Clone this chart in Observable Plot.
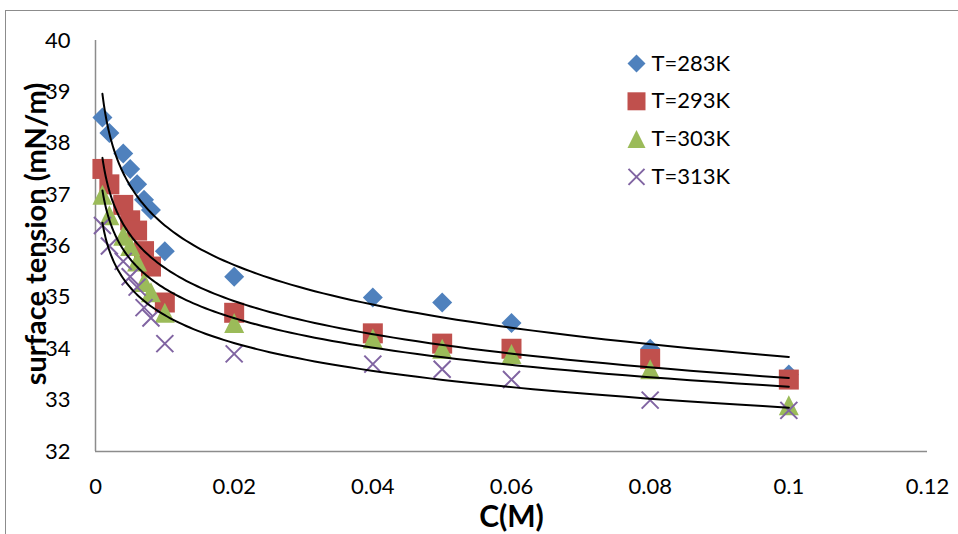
<!DOCTYPE html>
<html>
<head>
<meta charset="utf-8">
<script src="https://cdn.jsdelivr.net/npm/d3@7"></script>
<script src="https://cdn.jsdelivr.net/npm/@observablehq/plot@0.6"></script>
<style>
  html, body { margin: 0; padding: 0; background: #fff; }
  #wrap { position: relative; width: 958px; height: 534px; overflow: hidden; }
  #border { position: absolute; left: 5px; top: 10px; right: -10px; bottom: -10px;
            border-left: 1.5px solid #8c8c8c; border-top: 1.5px solid #8c8c8c; pointer-events: none; }
  #chart { position: absolute; left: 0; top: 0; }
</style>
</head>
<body>
<div id="wrap"><div id="chart"></div><div id="border"></div></div>
<script>
// ---- data ----
const conc = [0.001, 0.002, 0.004, 0.005, 0.006, 0.007, 0.008, 0.01, 0.02, 0.04, 0.05, 0.06, 0.08, 0.1];
const t283 = [38.5, 38.2, 37.8, 37.5, 37.2, 36.9, 36.7, 35.9, 35.4, 35.0, 34.9, 34.5, 34.0, 33.5];
const t293 = [37.5, 37.2, 36.8, 36.5, 36.3, 35.9, 35.6, 34.9, 34.7, 34.3, 34.1, 34.0, 33.8, 33.4];
const t303 = [37.0, 36.6, 36.2, 36.0, 35.7, 35.3, 35.1, 34.7, 34.5, 34.2, 34.0, 33.9, 33.6, 32.9];
const t313 = [36.4, 36.0, 35.7, 35.4, 35.2, 34.8, 34.6, 34.1, 33.9, 33.7, 33.6, 33.4, 33.0, 32.8];
const seriesNames = ["T=283K", "T=293K", "T=303K", "T=313K"];
const seriesValues = [t283, t293, t303, t313];
const xTicks = [0, 0.02, 0.04, 0.06, 0.08, 0.1, 0.12];
const yTicks = [32, 33, 34, 35, 36, 37, 38, 39, 40];
const xLabel = "C(M)";
const yLabel = "surface tension (mN/m)";

// ---- styles ----
const colors = ["#4F81BD", "#C0504D", "#9BBB59", "#8064A2"];
const hx = s => Math.sqrt(s / Math.PI);
const symDiamond = { draw(c, s) { const h = hx(s); c.moveTo(0, -h); c.lineTo(h, 0); c.lineTo(0, h); c.lineTo(-h, 0); c.closePath(); } };
const symSquare = { draw(c, s) { const h = hx(s); c.moveTo(-h, -h); c.lineTo(h, -h); c.lineTo(h, h); c.lineTo(-h, h); c.closePath(); } };
const symTriangle = { draw(c, s) { const h = hx(s); c.moveTo(0, -h); c.lineTo(h, h); c.lineTo(-h, h); c.closePath(); } };
const symTimes = { draw(c, s) { const h = hx(s); c.moveTo(-h, -h); c.lineTo(h, h); c.moveTo(h, -h); c.lineTo(-h, h); } };
const symbols = [symDiamond, symSquare, symTriangle, symTimes];
const radii = [10, 10, 10, 8.5];
const legendRadii = [9, 9, 9, 8];

// ---- build rows ----
const series = seriesNames.map((name, i) => ({
  name, i,
  rows: conc.map((c, j) => ({ c, v: seriesValues[i][j] }))
}));

// logarithmic trend (least squares on ln C), as in the spreadsheet trendline
function logFit(rows) {
  const lx = rows.map(r => Math.log(r.c)), ys = rows.map(r => r.v);
  const mx = d3.mean(lx), my = d3.mean(ys);
  const a = d3.sum(lx, (x, k) => (x - mx) * (ys[k] - my)) / d3.sum(lx, x => (x - mx) ** 2);
  return { a, b: my - a * mx };
}
const cMin = d3.min(conc), cMax = d3.max(conc);
const sampleC = d3.range(0, 121).map(k => cMin * Math.pow(cMax / cMin, k / 120));

const marks = [];
// axis lines
marks.push(Plot.ruleX([0], { stroke: "#8c8c8c", strokeWidth: 1.5 }));
marks.push(Plot.ruleY([32], { stroke: "#8c8c8c", strokeWidth: 1.5 }));

// points
series.forEach(s => {
  const isX = s.i === 3;
  marks.push(Plot.dot(s.rows, {
    x: "c", y: "v", symbol: () => symbols[s.i], r: radii[s.i],
    fill: isX ? "none" : colors[s.i],
    stroke: isX ? colors[s.i] : "none",
    strokeWidth: isX ? 2 : 0
  }));
});

// trendlines
series.forEach(s => {
  const { a, b } = logFit(s.rows);
  marks.push(Plot.line(sampleC.map(c => ({ c, v: a * Math.log(c) + b })), {
    x: "c", y: "v", stroke: "#000", strokeWidth: 2
  }));
});

// legend
series.forEach(s => {
  const isX = s.i === 3;
  const dy = 23 + 37.8 * s.i;
  marks.push(Plot.dot([s.name], {
    frameAnchor: "top-left", dx: 541, dy,
    symbol: () => symbols[s.i], r: legendRadii[s.i],
    fill: isX ? "none" : colors[s.i],
    stroke: isX ? colors[s.i] : "none",
    strokeWidth: isX ? 2 : 0
  }));
  marks.push(Plot.text([s.name], {
    frameAnchor: "top-left", dx: 556, dy, text: d => d,
    textAnchor: "start", lineAnchor: "middle", fontSize: 22, fill: "#000"
  }));
});

// axis titles
marks.push(Plot.text([yLabel], {
  frameAnchor: "left", dx: -59, dy: -12, rotate: -90, text: d => d,
  fontSize: 29, fontWeight: "bold", fill: "#000", lineAnchor: "middle", textAnchor: "middle"
}));
marks.push(Plot.text([xLabel], {
  frameAnchor: "bottom", dy: 66, text: d => d,
  fontSize: 30, fontWeight: "bold", fill: "#000", lineAnchor: "middle", textAnchor: "middle"
}));

// axes
marks.push(Plot.axisX({ ticks: xTicks, tickSize: 0, tickPadding: 27, tickFormat: d => String(d), fontSize: 22 }));
marks.push(Plot.axisY({ ticks: yTicks, tickSize: 0, tickPadding: 25, tickFormat: d => String(d), fontSize: 22 }));

const chart = Plot.plot({
  width: 958,
  height: 534,
  marginLeft: 95,
  marginRight: 31,
  marginTop: 40,
  marginBottom: 83,
  x: { domain: [0, 0.12], label: null },
  y: { domain: [32, 40], label: null },
  style: { fontFamily: "Lato, 'Open Sans', sans-serif", fontSize: "22px", color: "#000", background: "#fff", overflow: "visible" },
  marks
});
document.getElementById("chart").appendChild(chart);
</script>
</body>
</html>
